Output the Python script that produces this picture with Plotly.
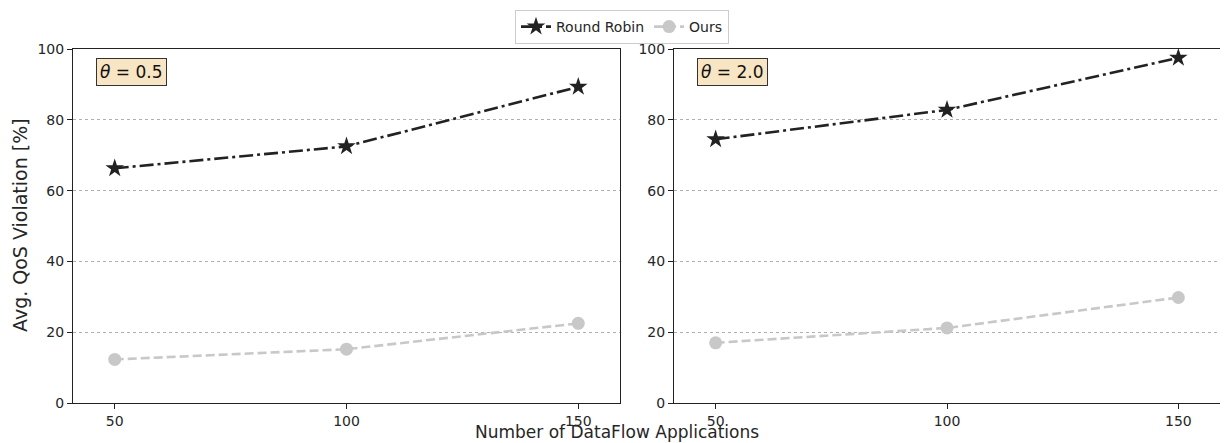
import plotly.graph_objects as go

apps = [50, 100, 150]
rr_theta05 = [66.3, 72.5, 89.3]
ours_theta05 = [12.3, 15.2, 22.5]
rr_theta20 = [74.5, 82.8, 97.5]
ours_theta20 = [17.0, 21.2, 29.8]
y_ticks = [0, 20, 40, 60, 80, 100]
x_ticks = [50, 100, 150]
panel_labels = ["<i>θ</i> = 0.5", "<i>θ</i> = 2.0"]

OFF = 8  # default page body margin in the browser
W, H = 1228 - OFF, 443 - OFF


def fx(p):
    return p - OFF


ml = fx(73)
mt = fx(49)
mr = W - fx(1220)
mb = H - fx(403)
pw = W - ml - mr
ph = H - mt - mb


def px_x(p):
    return (fx(p) - ml) / pw


def px_y(p):
    return (H - mb - fx(p)) / ph


dom1 = [0, px_x(620)]
dom2 = [px_x(674), 1]

rr_color = "#222222"
ours_color = "#c8c8c8"
font = "DejaVu Sans"
tcol = "#262626"

fig = go.Figure()

for i, (rr, ours) in enumerate([(rr_theta05, ours_theta05), (rr_theta20, ours_theta20)]):
    xa = "x" if i == 0 else "x2"
    ya = "y" if i == 0 else "y2"
    fig.add_trace(go.Scatter(
        x=apps, y=rr, mode="lines+markers", name="Round Robin",
        line=dict(color=rr_color, width=2.6, dash="14px,4px,3px,4px"),
        marker=dict(symbol="star", size=14, color=rr_color),
        xaxis=xa, yaxis=ya, showlegend=(i == 0)))
    fig.add_trace(go.Scatter(
        x=apps, y=ours, mode="lines+markers", name="Ours",
        line=dict(color=ours_color, width=2.6, dash="9px,4px"),
        marker=dict(symbol="circle", size=13, color=ours_color),
        xaxis=xa, yaxis=ya, showlegend=(i == 0)))

axis_common = dict(
    showline=True, linecolor="#222222", linewidth=1, mirror=True,
    ticks="outside", ticklen=5, tickwidth=1, tickcolor="#222222",
    tickfont=dict(family=font, size=14, color=tcol),
    zeroline=False,
)
xcommon = dict(axis_common, range=[41, 159], tickvals=x_ticks, showgrid=False)
ycommon = dict(axis_common, range=[0, 100], tickvals=y_ticks, showgrid=True,
               gridcolor="#b0b0b0", griddash="dot", gridwidth=1)

fig.update_layout(
    width=W, height=H,
    margin=dict(l=ml, r=mr, t=mt, b=mb, autoexpand=False),
    paper_bgcolor="white", plot_bgcolor="white",
    font=dict(family=font, color=tcol),
    xaxis=dict(xcommon, domain=dom1, anchor="y"),
    yaxis=dict(ycommon, domain=[0, 1], anchor="x"),
    xaxis2=dict(xcommon, domain=dom2, anchor="y2"),
    yaxis2=dict(ycommon, domain=[0, 1], anchor="x2"),
    legend=dict(orientation="h", x=px_x(622), xanchor="center",
                y=px_y(10), yanchor="top",
                bordercolor="#cccccc", borderwidth=1, bgcolor="white",
                font=dict(family=font, size=14, color=tcol),
                itemwidth=30, tracegroupgap=0),
    showlegend=True,
)

# panel labels
for i, lab in enumerate(panel_labels):
    ref = "x domain" if i == 0 else "x2 domain"
    yref = "y domain" if i == 0 else "y2 domain"
    fig.add_annotation(
        text=lab, xref=ref, yref=yref, x=23 / 547, y=(403 - 58) / 354,
        xanchor="left", yanchor="top", showarrow=False,
        font=dict(family=font, size=17, color="#111111"),
        bgcolor="#f8e5c3", bordercolor="#333333", borderwidth=1, borderpad=3)

# axis titles
fig.add_annotation(
    text="Avg. QoS Violation [%]", xref="paper", yref="paper",
    x=px_x(20), y=px_y(225), xanchor="center", yanchor="middle", textangle=-90,
    showarrow=False, font=dict(family=font, size=19, color=tcol))
fig.add_annotation(
    text="Number of DataFlow Applications", xref="paper", yref="paper",
    x=px_x(617), y=px_y(432), xanchor="center", yanchor="middle",
    showarrow=False, font=dict(family=font, size=17, color=tcol))

fig.write_html("out.html")
